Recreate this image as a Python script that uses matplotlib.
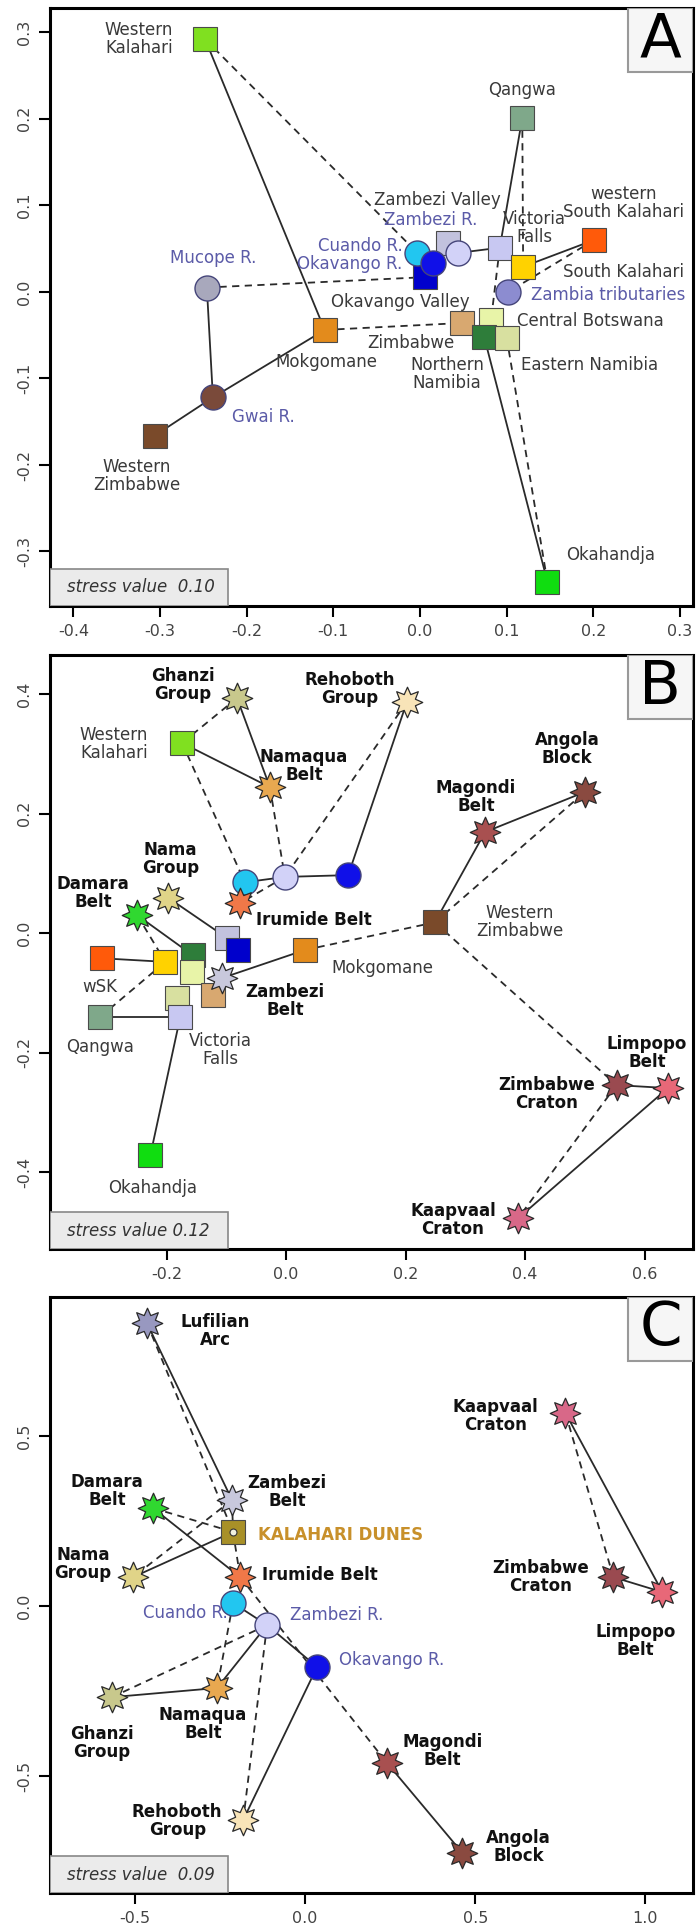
import math
import matplotlib.pyplot as plt
from matplotlib.path import Path
from matplotlib.patches import Rectangle

plt.rcParams['font.family'] = 'DejaVu Sans'

# ---------------- data (MDS coordinates) ----------------
a_names = ['Western Kalahari', 'Qangwa', 'western South Kalahari', 'Zambezi Valley',
           'Victoria Falls', 'South Kalahari', 'Okavango Valley', 'Mokgomane',
           'Zimbabwe', 'Central Botswana', 'Northern Namibia', 'Eastern Namibia',
           'Okahandja', 'Western Zimbabwe', 'Mucope R.', 'Gwai R.', 'Zambezi R.',
           'Cuando R.', 'Okavango R.', 'Zambia tributaries']
a_x = [-0.248, 0.118, 0.201, 0.032, 0.092, 0.119, 0.006, -0.110, 0.048, 0.082,
       0.074, 0.100, 0.147, -0.306, -0.246, -0.239, 0.044, -0.003, 0.015, 0.102]
a_y = [0.292, 0.201, 0.060, 0.057, 0.051, 0.029, 0.017, -0.044, -0.036, -0.032,
       -0.052, -0.053, -0.335, -0.166, 0.005, -0.122, 0.045, 0.045, 0.033, 0.000]
a_solid = [('Western Kalahari', 'Mokgomane'), ('Mucope R.', 'Gwai R.'),
           ('Gwai R.', 'Western Zimbabwe'), ('Gwai R.', 'Mokgomane'),
           ('Qangwa', 'Victoria Falls'), ('Victoria Falls', 'Zambezi R.'),
           ('western South Kalahari', 'South Kalahari'),
           ('Northern Namibia', 'Okahandja'), ('Cuando R.', 'Okavango R.')]
a_dashed = [('Western Kalahari', 'Cuando R.'), ('Mucope R.', 'Okavango Valley'),
            ('Mokgomane', 'Zimbabwe'), ('Qangwa', 'South Kalahari'),
            ('western South Kalahari', 'Zambia tributaries'),
            ('Victoria Falls', 'Central Botswana'), ('Eastern Namibia', 'Okahandja'),
            ('Zambezi Valley', 'Zambezi R.')]

b_names = ['Western Kalahari', 'Ghanzi Group', 'Namaqua Belt', 'Rehoboth Group',
           'Angola Block', 'Magondi Belt', 'Western Zimbabwe', 'Nama Group',
           'Damara Belt', 'Zambezi Valley', 'Okavango Valley', 'Mokgomane',
           'western South Kalahari', 'South Kalahari', 'Northern Namibia',
           'Central Botswana', 'Zimbabwe', 'Eastern Namibia', 'Victoria Falls',
           'Qangwa', 'Okahandja', 'Zambezi Belt', 'Cuando R.', 'Zambezi R.',
           'Okavango R.', 'Irumide Belt', 'Zimbabwe Craton', 'Limpopo Belt',
           'Kaapvaal Craton']
b_x = [-0.174, -0.082, -0.027, 0.202, 0.500, 0.333, 0.249, -0.197, -0.249, -0.099,
       -0.080, 0.032, -0.308, -0.202, -0.156, -0.157, -0.122, -0.182, -0.177,
       -0.311, -0.227, -0.107, -0.069, -0.002, 0.104, -0.077, 0.553, 0.639, 0.388]
b_y = [0.318, 0.393, 0.244, 0.386, 0.236, 0.169, 0.018, 0.059, 0.030, -0.008,
       -0.028, -0.028, -0.042, -0.048, -0.037, -0.065, -0.104, -0.109, -0.140,
       -0.140, -0.371, -0.075, 0.085, 0.094, 0.097, 0.050, -0.254, -0.259, -0.477]
b_solid = [('Ghanzi Group', 'Namaqua Belt'), ('Western Kalahari', 'Namaqua Belt'),
           ('Rehoboth Group', 'Okavango R.'), ('Zambezi R.', 'Okavango R.'),
           ('Zambezi R.', 'Cuando R.'), ('Nama Group', 'Zambezi Valley'),
           ('Damara Belt', 'Northern Namibia'),
           ('western South Kalahari', 'South Kalahari'),
           ('Qangwa', 'Victoria Falls'), ('Victoria Falls', 'Okahandja'),
           ('Mokgomane', 'Zambezi Belt'), ('Western Zimbabwe', 'Magondi Belt'),
           ('Magondi Belt', 'Angola Block'), ('Zimbabwe Craton', 'Limpopo Belt'),
           ('Limpopo Belt', 'Kaapvaal Craton')]
b_dashed = [('Ghanzi Group', 'Western Kalahari'), ('Western Kalahari', 'Cuando R.'),
            ('Namaqua Belt', 'Zambezi R.'), ('Rehoboth Group', 'Zambezi R.'),
            ('Zambezi R.', 'Irumide Belt'), ('Mokgomane', 'Western Zimbabwe'),
            ('Western Zimbabwe', 'Angola Block'),
            ('Western Zimbabwe', 'Zimbabwe Craton'),
            ('Zimbabwe Craton', 'Kaapvaal Craton'), ('Qangwa', 'South Kalahari'),
            ('Damara Belt', 'South Kalahari')]

c_names = ['Lufilian Arc', 'Zambezi Belt', 'Damara Belt', 'KALAHARI DUNES',
           'Nama Group', 'Irumide Belt', 'Cuando R.', 'Zambezi R.', 'Okavango R.',
           'Namaqua Belt', 'Ghanzi Group', 'Rehoboth Group', 'Magondi Belt',
           'Angola Block', 'Kaapvaal Craton', 'Zimbabwe Craton', 'Limpopo Belt']
c_x = [-0.465, -0.215, -0.447, -0.212, -0.506, -0.191, -0.212, -0.112, 0.035,
       -0.259, -0.568, -0.182, 0.241, 0.462, 0.765, 0.906, 1.050]
c_y = [0.832, 0.312, 0.288, 0.218, 0.085, 0.085, 0.009, -0.056, -0.179,
       -0.241, -0.268, -0.629, -0.462, -0.726, 0.568, 0.085, 0.041]
c_solid = [('Lufilian Arc', 'Zambezi Belt'), ('Damara Belt', 'Irumide Belt'),
           ('KALAHARI DUNES', 'Nama Group'), ('Zambezi Belt', 'KALAHARI DUNES'),
           ('Cuando R.', 'Zambezi R.'), ('Zambezi R.', 'Namaqua Belt'),
           ('Ghanzi Group', 'Namaqua Belt'), ('Okavango R.', 'Rehoboth Group'),
           ('Zambezi R.', 'Okavango R.'), ('Magondi Belt', 'Angola Block'),
           ('Kaapvaal Craton', 'Limpopo Belt'), ('Zimbabwe Craton', 'Limpopo Belt')]
c_dashed = [('Lufilian Arc', 'KALAHARI DUNES'), ('Damara Belt', 'KALAHARI DUNES'),
            ('Zambezi Belt', 'Nama Group'), ('KALAHARI DUNES', 'Irumide Belt'),
            ('Cuando R.', 'Namaqua Belt'), ('Zambezi R.', 'Ghanzi Group'),
            ('Zambezi R.', 'Rehoboth Group'), ('Irumide Belt', 'Magondi Belt'),
            ('Kaapvaal Craton', 'Zimbabwe Craton')]

stress_values = ['stress value  0.10', 'stress value 0.12', 'stress value  0.09']
panel_letters = ['A', 'B', 'C']

# ---------------- styles ----------------
rivers = {'Mucope R.', 'Gwai R.', 'Zambezi R.', 'Cuando R.', 'Okavango R.',
          'Zambia tributaries'}
units = {'Ghanzi Group', 'Namaqua Belt', 'Rehoboth Group', 'Angola Block',
         'Magondi Belt', 'Nama Group', 'Damara Belt', 'Zambezi Belt',
         'Irumide Belt', 'Zimbabwe Craton', 'Limpopo Belt', 'Kaapvaal Craton',
         'Lufilian Arc'}
colors = {
    'Western Kalahari': '#80e020', 'Qangwa': '#7fa88a',
    'western South Kalahari': '#ff5a0a', 'Zambezi Valley': '#c2c2de',
    'Victoria Falls': '#c8c8f2', 'South Kalahari': '#ffd200',
    'Okavango Valley': '#0000cc', 'Mokgomane': '#e38b1c', 'Zimbabwe': '#d8a870',
    'Central Botswana': '#e8f4a8', 'Northern Namibia': '#2e7d3a',
    'Eastern Namibia': '#d8e0a0', 'Okahandja': '#10dd10',
    'Western Zimbabwe': '#7a4a2a', 'Mucope R.': '#a8a8bc', 'Gwai R.': '#7a4a3a',
    'Zambezi R.': '#d2d2f8', 'Cuando R.': '#22c6f0', 'Okavango R.': '#1010e8',
    'Zambia tributaries': '#8c8cd0', 'Ghanzi Group': '#c8c88c',
    'Namaqua Belt': '#e8a850', 'Rehoboth Group': '#f8e4b8',
    'Angola Block': '#8a4a40', 'Magondi Belt': '#a85050', 'Nama Group': '#e0d488',
    'Damara Belt': '#30d830', 'Zambezi Belt': '#c8c8dc', 'Irumide Belt': '#f07848',
    'Zimbabwe Craton': '#9a4a50', 'Limpopo Belt': '#e86878',
    'Kaapvaal Craton': '#d86888', 'Lufilian Arc': '#9898c0',
    'KALAHARI DUNES': '#a89028',
}

# label text and offset from marker in pixels (dx right, dy down)
a_labels = {
    'Western Kalahari': ('Western\nKalahari', -32, 0, 'right'),
    'Mucope R.': ('Mucope R.', 6, -30, 'center'),
    'Gwai R.': ('Gwai R.', 50, 20, 'center'),
    'Western Zimbabwe': ('Western\nZimbabwe', -18, 40, 'center'),
    'Mokgomane': ('Mokgomane', 2, 32, 'center'),
    'Zambezi Valley': ('Zambezi Valley', -10, -43, 'center'),
    'Zambezi R.': ('Zambezi R.', -27, -33, 'center'),
    'Cuando R.': ('Cuando R.\nOkavango R.', -15, 2, 'right'),
    'Okavango Valley': ('Okavango Valley', -25, 25, 'center'),
    'Victoria Falls': ('Victoria\nFalls', 35, -20, 'center'),
    'Qangwa': ('Qangwa', 0, -28, 'center'),
    'western South Kalahari': ('western\nSouth Kalahari', 29, -37, 'center'),
    'South Kalahari': ('South Kalahari', 100, 5, 'center'),
    'Zambia tributaries': ('Zambia tributaries', 100, 3, 'center'),
    'Central Botswana': ('Central Botswana', 99, 1, 'center'),
    'Zimbabwe': ('Zimbabwe', -51, 20, 'center'),
    'Northern Namibia': ('Northern\nNamibia', -37, 37, 'center'),
    'Eastern Namibia': ('Eastern Namibia', 83, 27, 'center'),
    'Okahandja': ('Okahandja', 63, -27, 'center'),
}
b_labels = {
    'Ghanzi Group': ('Ghanzi\nGroup', -54, -13, 'center'),
    'Western Kalahari': ('Western\nKalahari', -34, 1, 'right'),
    'Namaqua Belt': ('Namaqua\nBelt', 34, -21, 'center'),
    'Rehoboth Group': ('Rehoboth\nGroup', -57, -13, 'center'),
    'Angola Block': ('Angola\nBlock', -18, -43, 'center'),
    'Magondi Belt': ('Magondi\nBelt', -9, -35, 'center'),
    'Western Zimbabwe': ('Western\nZimbabwe', 85, 0, 'center'),
    'Mokgomane': ('Mokgomane', 77, 18, 'center'),
    'Irumide Belt': ('Irumide Belt', 74, 17, 'center'),
    'Nama Group': ('Nama\nGroup', 2, -39, 'center'),
    'Damara Belt': ('Damara\nBelt', -44, -22, 'center'),
    'western South Kalahari': ('wSK', -2, 29, 'center'),
    'Zambezi Belt': ('Zambezi\nBelt', 63, 23, 'center'),
    'Qangwa': ('Qangwa', 0, 30, 'center'),
    'Victoria Falls': ('Victoria\nFalls', 40, 33, 'center'),
    'Okahandja': ('Okahandja', 2, 33, 'center'),
    'Limpopo Belt': ('Limpopo\nBelt', -21, -35, 'center'),
    'Zimbabwe Craton': ('Zimbabwe\nCraton', -70, 9, 'center'),
    'Kaapvaal Craton': ('Kaapvaal\nCraton', -65, 2, 'center'),
}
c_labels = {
    'Lufilian Arc': ('Lufilian\nArc', 68, 8, 'center'),
    'Zambezi Belt': ('Zambezi\nBelt', 55, -8, 'center'),
    'Damara Belt': ('Damara\nBelt', -46, -17, 'center'),
    'KALAHARI DUNES': ('KALAHARI DUNES', 25, 3, 'left'),
    'Nama Group': ('Nama\nGroup', -50, -13, 'center'),
    'Irumide Belt': ('Irumide Belt', 22, -2, 'left'),
    'Cuando R.': ('Cuando R.', -48, 10, 'center'),
    'Zambezi R.': ('Zambezi R.', 70, -10, 'center'),
    'Okavango R.': ('Okavango R.', 75, -7, 'center'),
    'Namaqua Belt': ('Namaqua\nBelt', -14, 36, 'center'),
    'Ghanzi Group': ('Ghanzi\nGroup', -10, 46, 'center'),
    'Rehoboth Group': ('Rehoboth\nGroup', -66, 1, 'center'),
    'Magondi Belt': ('Magondi\nBelt', 55, -12, 'center'),
    'Angola Block': ('Angola\nBlock', 56, -6, 'center'),
    'Kaapvaal Craton': ('Kaapvaal\nCraton', -70, 3, 'center'),
    'Zimbabwe Craton': ('Zimbabwe\nCraton', -73, 0, 'center'),
    'Limpopo Belt': ('Limpopo\nBelt', -27, 49, 'center'),
}

# 8-pointed star marker
star_verts = []
for k in range(16):
    r = 1.0 if k % 2 == 0 else 0.56
    ang = math.pi / 2 + k * math.pi / 8
    star_verts.append((r * math.cos(ang), r * math.sin(ang)))
star_verts.append(star_verts[0])
star_marker = Path(star_verts, closed=True)

W, H = 696, 1929
fig = plt.figure(figsize=(W / 100, H / 100), dpi=100)


def panel(top_px, bottom_px, xlim, ylim, xticks, yticks, names, xs, ys,
          solid, dashed, labels, letter, stress):
    ax = fig.add_axes([50 / W, 1 - bottom_px / H, 643 / W, (bottom_px - top_px) / H])
    pos = {n: (x, y) for n, x, y in zip(names, xs, ys)}
    for (p, q) in solid:
        ax.plot([pos[p][0], pos[q][0]], [pos[p][1], pos[q][1]], color='#2a2a2a',
                lw=1.3, zorder=2)
    for (p, q) in dashed:
        ax.plot([pos[p][0], pos[q][0]], [pos[p][1], pos[q][1]], color='#2a2a2a',
                lw=1.3, ls=(0, (4, 3)), zorder=2)
    for n in names:
        x, y = pos[n]
        if n in rivers:
            ax.plot(x, y, 'o', ms=18, mfc=colors[n], mec='#45457a', mew=1.0, zorder=3)
        elif n in units:
            ax.plot(x, y, marker=star_marker, ms=22, mfc=colors[n], mec='#2a2a2a',
                    mew=0.9, zorder=3)
        else:
            ax.plot(x, y, 's', ms=17.5, mfc=colors[n], mec='#4a4a4a', mew=0.8, zorder=3)
            if n == 'KALAHARI DUNES':
                ax.plot(x, y, 'o', ms=5, mfc='#f0f0e0', mec='#333333', mew=0.8, zorder=4)
    for n, (txt, dx, dy, ha) in labels.items():
        if n in rivers:
            col, wt = '#5b5ba8', 'normal'
        elif n == 'KALAHARI DUNES':
            col, wt = '#c8902a', 'bold'
        elif n in units:
            col, wt = '#111111', 'bold'
        else:
            col, wt = '#3a3a3a', 'normal'
        ax.annotate(txt, pos[n], xytext=(dx * 0.72, -dy * 0.72),
                    textcoords='offset points', ha=ha, va='center', fontsize=12,
                    color=col, fontweight=wt, linespacing=1.0, zorder=5)
    ax.set_xlim(xlim)
    ax.set_ylim(ylim)
    ax.set_xticks(xticks)
    ax.set_yticks(yticks)
    ax.set_xticklabels(['%.1f' % v for v in xticks])
    ax.set_yticklabels(['%.1f' % v for v in yticks], rotation=90, va='center')
    ax.tick_params(direction='out', length=8, width=1.5, labelsize=11.5,
                   labelcolor='#444444', pad=5)
    for s in ax.spines.values():
        s.set_linewidth(2.2)
    h = bottom_px - top_px
    ax.add_patch(Rectangle((1 - 65 / 643, 1 - 64 / h), 65 / 643, 64 / h,
                           transform=ax.transAxes, facecolor='#f6f6f6',
                           edgecolor='#999999', lw=1.5, zorder=6))
    ax.text(1 - 32.5 / 643, 1 - 32 / h, letter, transform=ax.transAxes, fontsize=44,
            ha='center', va='center', zorder=7)
    ax.add_patch(Rectangle((0, 0), 178 / 643, 37 / h, transform=ax.transAxes,
                           facecolor='#ebebeb', edgecolor='#888888', lw=1.2, zorder=6))
    ax.text(17 / 643, 18.5 / h, stress, transform=ax.transAxes, fontsize=12,
            style='italic', color='#333333', ha='left', va='center', zorder=7)
    return ax


panel(8, 606, (-0.427, 0.315), (-0.363, 0.328),
      [-0.4, -0.3, -0.2, -0.1, 0.0, 0.1, 0.2, 0.3], [-0.3, -0.2, -0.1, 0.0, 0.1, 0.2, 0.3],
      a_names, a_x, a_y, a_solid, a_dashed, a_labels, panel_letters[0], stress_values[0])
panel(655, 1249, (-0.395, 0.681), (-0.528, 0.465),
      [-0.2, 0.0, 0.2, 0.4, 0.6], [-0.4, -0.2, 0.0, 0.2, 0.4],
      b_names, b_x, b_y, b_solid, b_dashed, b_labels, panel_letters[1], stress_values[1])
panel(1297, 1893, (-0.75, 1.14), (-0.844, 0.909),
      [-0.5, 0.0, 0.5, 1.0], [-0.5, 0.0, 0.5],
      c_names, c_x, c_y, c_solid, c_dashed, c_labels, panel_letters[2], stress_values[2])

fig.savefig('out.png', dpi=100, facecolor='white')
